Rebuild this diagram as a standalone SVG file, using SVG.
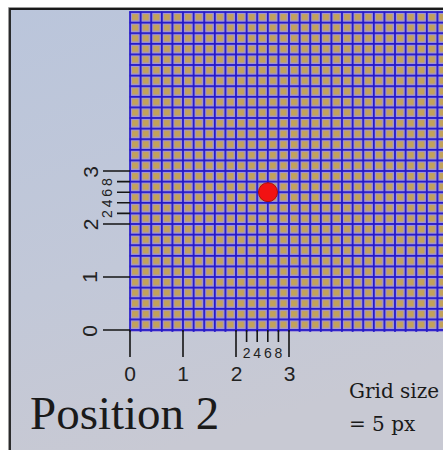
<svg xmlns="http://www.w3.org/2000/svg" width="443" height="450" viewBox="0 0 443 450">
  <defs>
    <linearGradient id="paper" x1="0" y1="0" x2="0.3" y2="1">
      <stop offset="0" stop-color="#bac5db"/>
      <stop offset="0.6" stop-color="#c2c8d8"/>
      <stop offset="1" stop-color="#c8c9d3"/>
    </linearGradient>
    <pattern id="cells" patternUnits="userSpaceOnUse" x="129.1" y="329.1" width="10.6" height="10.6">
      <rect x="0" y="0" width="10.6" height="10.6" fill="#a093d8"/>
      <rect x="3.0" y="3.0" width="6.2" height="6.2" fill="#c2a25a"/>
      <rect x="0" y="0" width="10.6" height="1.8" fill="#2418c8"/>
      <rect x="0" y="0" width="1.8" height="10.6" fill="#2418c8"/>
    </pattern>
    <style>
      .ax { stroke: #151515; stroke-width: 1.6; fill: none; }
      .num { font-family: "Liberation Sans", Arial, sans-serif; font-size: 21px; fill: #222; text-anchor: middle; }
      .sm { font-family: "Liberation Sans", Arial, sans-serif; font-size: 14px; fill: #222; text-anchor: middle; }
      .note { font-family: "DejaVu Serif", "Liberation Serif", serif; font-size: 20px; fill: #1a1a1a; }
    </style>
  </defs>

  <!-- background and frame -->
  <rect x="0" y="0" width="443" height="450" fill="#ffffff"/>
  <rect x="9" y="8" width="440" height="450" fill="url(#paper)"/>
  <path d="M8.5 450 V7.5 H443" stroke="#9a9a9a" stroke-width="1" fill="none"/>
  <path d="M10 450 V9 H443" stroke="#1a1a1a" stroke-width="1.8" fill="none"/>

  <!-- grid -->
  <g id="grid">
    <rect x="129.1" y="11.1" width="314" height="320.8" fill="url(#cells)"/>
  </g>

  <!-- axes -->
  <g id="axes">
    <path class="ax" d="M130 330 V357 M183 330 V357 M236 330 V357 M289 330 V357 M246.6 330 V342 M257.2 330 V342 M267.8 330 V342 M278.4 330 V342"/>
    <path class="ax" d="M103 330 H130 M103 277 H130 M103 224 H130 M103 171 H130 M117 213.4 H130 M117 202.8 H130 M117 192.2 H130 M117 181.6 H130"/>
    <text class="num" x="130" y="381">0</text>
    <text class="num" x="183" y="381">1</text>
    <text class="num" x="236.5" y="381">2</text>
    <text class="num" x="289.5" y="381">3</text>
    <text class="sm" x="246.6" y="358">2</text>
    <text class="sm" x="257.2" y="358">4</text>
    <text class="sm" x="267.8" y="358">6</text>
    <text class="sm" x="278.4" y="358">8</text>
    <text class="num" transform="translate(96.5 331) rotate(-90)">0</text>
    <text class="num" transform="translate(96.5 277) rotate(-90)">1</text>
    <text class="num" transform="translate(97.5 224.5) rotate(-90)">2</text>
    <text class="num" transform="translate(97.5 172) rotate(-90)">3</text>
    <text class="sm" transform="translate(112 214) rotate(-90)">2</text>
    <text class="sm" transform="translate(112 203.4) rotate(-90)">4</text>
    <text class="sm" transform="translate(112 192.8) rotate(-90)">6</text>
    <text class="sm" transform="translate(112 182.2) rotate(-90)">8</text>
  </g>

  <!-- point -->
  <g id="point">
    <circle cx="268" cy="192.2" r="9.5" fill="#f21212" stroke="#a80c0c" stroke-width="1"/>
  </g>

  <!-- labels -->
  <g id="labels">
    <text x="30" y="429" font-family="'Liberation Serif', 'Times New Roman', serif" font-size="47" fill="#1a1a1a">Position 2</text>
    <text class="note" x="349" y="398">Grid size</text>
    <text class="note" x="349" y="431">= 5 px</text>
  </g>
</svg>
